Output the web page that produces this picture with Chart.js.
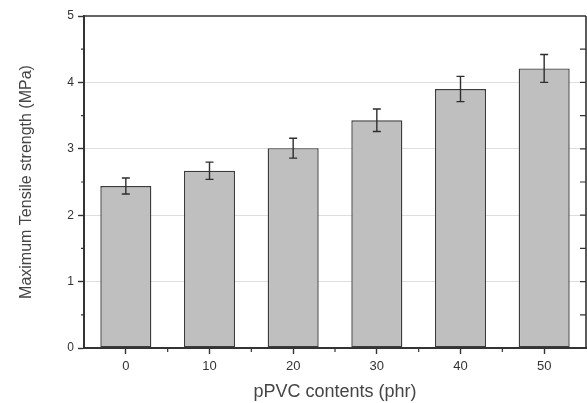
<!DOCTYPE html>
<html>
<head>
<meta charset="utf-8">
<script src="https://cdn.jsdelivr.net/npm/chart.js@4/dist/chart.umd.min.js"></script>
<style>
  html, body { margin: 0; padding: 0; background: #fff; }
  #wrap { width: 587px; height: 403px; }
</style>
</head>
<body>
<div id="wrap"><canvas id="c" width="587" height="403"></canvas></div>
<script>
const categories = ['0', '10', '20', '30', '40', '50'];
const strength = [2.44, 2.67, 3.01, 3.43, 3.90, 4.21];
const errors = [0.12, 0.13, 0.15, 0.17, 0.19, 0.21];
const yTicks = [0, 1, 2, 3, 4, 5];

const frameColor = '#333333';

const decorPlugin = {
  id: 'decor',
  afterDatasetsDraw(chart) {
    const ctx = chart.ctx;
    const meta = chart.getDatasetMeta(0);
    const y = chart.scales.y;
    ctx.save();
    ctx.strokeStyle = '#2e2e2e';
    ctx.lineWidth = 1.4;
    meta.data.forEach((bar, i) => {
      const v = strength[i], e = errors[i];
      const yt = y.getPixelForValue(v + e);
      const yb = y.getPixelForValue(v - e);
      const x = bar.x;
      ctx.beginPath();
      ctx.moveTo(x, yt); ctx.lineTo(x, yb);
      ctx.moveTo(x - 4, yt); ctx.lineTo(x + 4, yt);
      ctx.moveTo(x - 4, yb); ctx.lineTo(x + 4, yb);
      ctx.stroke();
    });
    ctx.restore();
  },
  afterDraw(chart) {
    const ctx = chart.ctx;
    const a = chart.chartArea;
    const y = chart.scales.y;
    const x = chart.scales.x;
    ctx.save();
    ctx.strokeStyle = frameColor;
    ctx.lineWidth = 1.6;
    ctx.beginPath();
    ctx.moveTo(a.left, a.top); ctx.lineTo(a.right, a.top);
    ctx.moveTo(a.right, a.top); ctx.lineTo(a.right, a.bottom);
    ctx.stroke();
    ctx.lineWidth = 1.2;
    ctx.beginPath();
    for (let k = 0; k <= 10; k++) {
      const v = k / 2;
      const py = y.getPixelForValue(v);
      if (k % 2 === 1) {
        ctx.moveTo(a.left - 3, py); ctx.lineTo(a.left, py);
      }
      if (k > 0 && k < 10) {
        ctx.moveTo(a.right, py); ctx.lineTo(a.right - 6, py);
      }
    }
    for (let i = 1; i < categories.length; i++) {
      const px = (x.getPixelForValue(i - 1) + x.getPixelForValue(i)) / 2;
      ctx.moveTo(px, a.bottom); ctx.lineTo(px, a.bottom + 4);
    }
    ctx.stroke();
    ctx.restore();
  }
};

new Chart(document.getElementById('c'), {
  type: 'bar',
  data: {
    labels: categories,
    datasets: [{
      data: strength,
      backgroundColor: '#bfbfbf',
      borderColor: '#3c3c3c',
      borderWidth: 1.4,
      borderSkipped: false,
      barPercentage: 0.61,
      categoryPercentage: 1.0
    }]
  },
  options: {
    responsive: false,
    animation: false,
    devicePixelRatio: 1,
    layout: { padding: { top: 16, right: 1, left: 0, bottom: 0 } },
    plugins: { legend: { display: false }, tooltip: { enabled: false } },
    scales: {
      x: {
        offset: true,
        afterFit(s) { s.height = 55; },
        grid: {
          offset: false,
          drawOnChartArea: false,
          drawTicks: true,
          tickLength: 6,
          tickColor: frameColor,
          tickWidth: 1.4
        },
        border: { display: true, color: frameColor, width: 2 },
        ticks: {
          color: '#333',
          padding: 5,
          font: { family: 'Liberation Sans, Arial, sans-serif', size: 13 }
        },
        title: {
          display: true,
          text: 'pPVC contents (phr)',
          color: '#444',
          padding: { top: 0, bottom: 0 },
          font: { family: 'Liberation Sans, Arial, sans-serif', size: 18 }
        }
      },
      y: {
        min: 0,
        max: 5,
        afterFit(s) { s.width = 84; },
        afterBuildTicks(s) { s.ticks = yTicks.map(v => ({ value: v })); },
        grid: {
          color: (c) => (c.tick && (c.tick.value === 0 || c.tick.value === 5)) ? 'rgba(0,0,0,0)' : '#dedede',
          lineWidth: 1,
          drawTicks: true,
          tickLength: 6,
          tickColor: frameColor,
          tickWidth: 1.4
        },
        border: { display: true, color: frameColor, width: 2 },
        ticks: {
          color: '#333',
          padding: 4,
          font: { family: 'Liberation Sans, Arial, sans-serif', size: 12 }
        },
        title: {
          display: true,
          text: 'Maximum Tensile strength (MPa)',
          color: '#444',
          padding: { top: 17, bottom: 0 },
          font: { family: 'Liberation Sans, Arial, sans-serif', size: 16 }
        }
      }
    }
  },
  plugins: [decorPlugin]
});
</script>
</body>
</html>
